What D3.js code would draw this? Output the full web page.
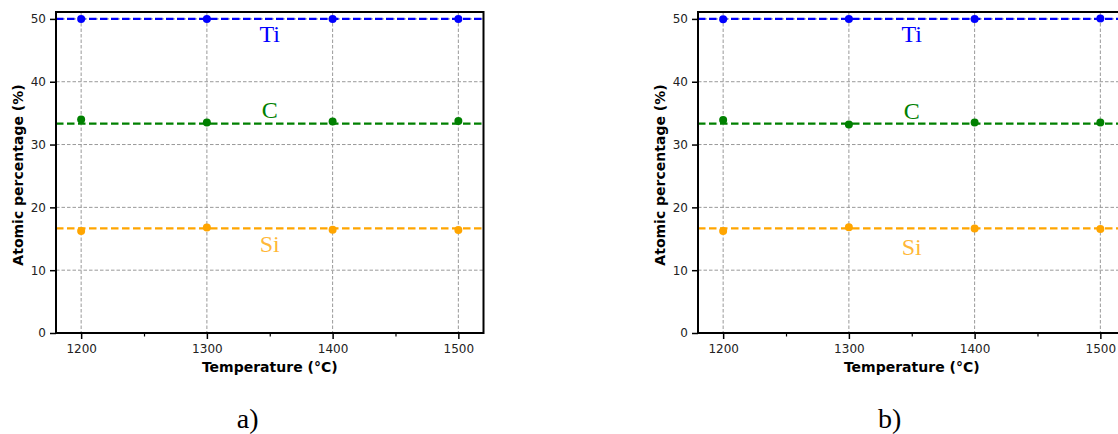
<!DOCTYPE html>
<html>
<head>
<meta charset="utf-8">
<script src="https://cdn.jsdelivr.net/npm/d3@7"></script>
<style>
  html, body { margin: 0; padding: 0; background: #fff; }
  svg { display: block; }
</style>
</head>
<body>
<svg id="chart" width="1118" height="434"></svg>
<script>
// ---- data ----
const temperatures = [1200, 1300, 1400, 1500];
const xTicks = [1200, 1300, 1400, 1500];
const xMinorTicks = [1250, 1350, 1450];
const yTicks = [0, 10, 20, 30, 40, 50];
const elements = ["Ti", "C", "Si"];
const elementColors = ["#0000ff", "#008000", "#ffa500"];
const nominal = [50, 33.33, 16.67];
// panel a)
const tiA = [50.0, 50.0, 50.0, 50.0];
const cA  = [34.0, 33.5, 33.65, 33.75];
const siA = [16.25, 16.8, 16.45, 16.4];
// panel b)
const tiB = [49.95, 50.0, 50.0, 50.05];
const cB  = [33.9, 33.2, 33.5, 33.5];
const siB = [16.25, 16.85, 16.65, 16.55];
const panelCaptions = ["a)", "b)"];
const xLabel = "Temperature (°C)";
const yLabel = "Atomic percentage (%)";

(function () {
const panels = [
  { series: [tiA, cA, siA], caption: panelCaptions[0], left: 56, labelVals: [46.4, 34.15, 12.95] },
  { series: [tiB, cB, siB], caption: panelCaptions[1], left: 698, labelVals: [46.4, 34.0, 12.4] }
];

const svg = d3.select("#chart");
const W = 427.5, plotTop = 12, plotBottom = 333;

panels.forEach(p => {
  const g = svg.append("g").attr("transform", `translate(${p.left},0)`);
  const x = d3.scaleLinear().domain([1180, 1520]).range([0, W]);
  const y = d3.scaleLinear().domain([0, 51.1]).range([plotBottom, plotTop]);

  // grid
  const grid = g.append("g");
  grid.selectAll("line.gx").data(xTicks).join("line")
    .attr("x1", d => x(d)).attr("x2", d => x(d))
    .attr("y1", plotTop).attr("y2", plotBottom)
    .attr("stroke", "#999").attr("stroke-width", 1).attr("stroke-dasharray", "3.5,2");
  grid.selectAll("line.gy").data(yTicks).join("line")
    .attr("x1", 0).attr("x2", W)
    .attr("y1", d => y(d)).attr("y2", d => y(d))
    .attr("stroke", "#999").attr("stroke-width", 1).attr("stroke-dasharray", "3.5,2");

  // nominal dashed lines
  g.selectAll("line.nom").data(nominal).join("line")
    .attr("x1", 0).attr("x2", W)
    .attr("y1", d => y(d)).attr("y2", d => y(d))
    .attr("stroke", (d, i) => elementColors[i])
    .attr("stroke-width", 2.2).attr("stroke-dasharray", "7.5,3.5");

  // points
  p.series.forEach((vals, si) => {
    g.selectAll(null).data(vals).join("circle")
      .attr("cx", (d, i) => x(temperatures[i]))
      .attr("cy", d => y(d))
      .attr("r", 4)
      .attr("fill", elementColors[si]);
  });

  // element labels
  elements.forEach((el, i) => {
    g.append("text")
      .attr("x", x(1350)).attr("y", y(p.labelVals[i]))
      .attr("text-anchor", "middle")
      .attr("font-family", "'Liberation Serif', 'Times New Roman', serif")
      .attr("font-size", 24)
      .attr("fill", elementColors[i])
      .attr("fill-opacity", i === 2 ? 0.8 : 1)
      .text(el);
  });

  // axes
  const xAxis = g.append("g").attr("transform", `translate(0,${plotBottom})`)
    .call(d3.axisBottom(x).tickValues(xTicks).tickSize(6).tickPadding(5.5).tickFormat(d3.format("d")));
  g.append("g").attr("transform", `translate(0,${plotBottom})`)
    .call(d3.axisBottom(x).tickValues(xMinorTicks).tickSize(3.5).tickFormat(""))
    .call(a => a.select(".domain").remove())
    .call(a => a.selectAll("line").attr("stroke-width", 1.2));
  const yAxis = g.append("g")
    .call(d3.axisLeft(y).tickValues(yTicks).tickSize(6).tickPadding(4).tickFormat(d3.format("d")));
  [xAxis, yAxis].forEach(a => {
    a.select(".domain").remove();
    a.selectAll("line").attr("stroke", "#000").attr("stroke-width", 1.5);
    a.selectAll("text").attr("font-family", "'DejaVu Sans', sans-serif")
      .attr("font-size", 12).attr("fill", "#222");
  });

  // frame
  g.append("rect").attr("x", 0).attr("y", plotTop).attr("width", W).attr("height", plotBottom - plotTop)
    .attr("fill", "none").attr("stroke", "#000").attr("stroke-width", 2);

  // axis titles
  g.append("text")
    .attr("x", W / 2).attr("y", 371.5)
    .attr("text-anchor", "middle")
    .attr("font-family", "'DejaVu Sans', sans-serif")
    .attr("font-weight", "bold").attr("font-size", 14)
    .text(xLabel);
  g.append("text")
    .attr("transform", `translate(-33,175) rotate(-90)`)
    .attr("text-anchor", "middle")
    .attr("font-family", "'DejaVu Sans', sans-serif")
    .attr("font-weight", "bold").attr("font-size", 14)
    .text(yLabel);

  // caption
  g.append("text")
    .attr("x", W / 2 - 22).attr("y", 428)
    .attr("text-anchor", "middle")
    .attr("font-family", "'Liberation Serif', 'Times New Roman', serif")
    .attr("font-size", 28)
    .text(p.caption);
});
})();
</script>
</body>
</html>
